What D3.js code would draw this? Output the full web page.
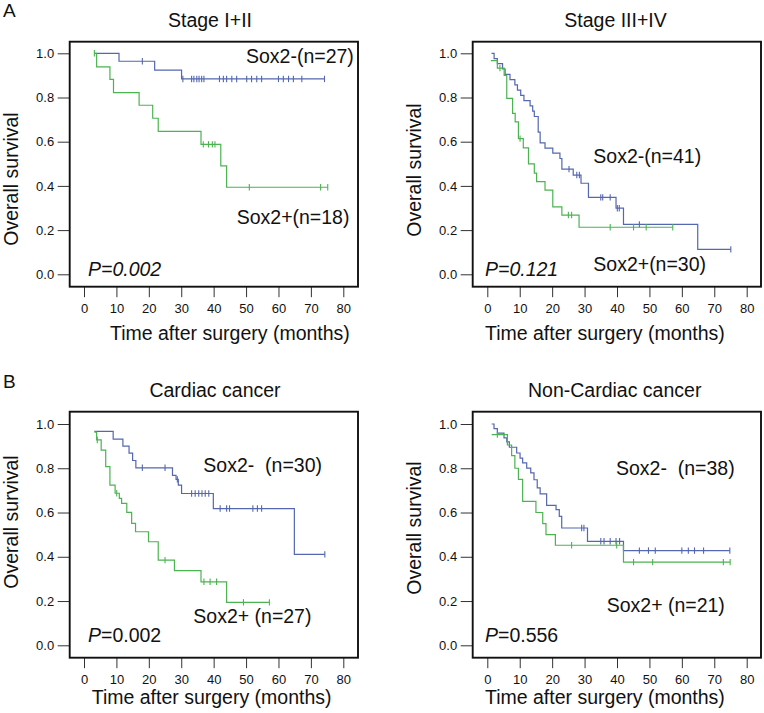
<!DOCTYPE html>
<html><head><meta charset="utf-8">
<script src="https://cdn.jsdelivr.net/npm/d3@7"></script>
<style>
body{margin:0;background:#fff}
svg{display:block}
text{font-family:"Liberation Sans",Arial,Helvetica,sans-serif;fill:#111}
</style>
</head><body>
<svg id="chart" width="764" height="713"></svg>
<script>
// ---------- tick labels / categories ----------
const xTicks = [0, 10, 20, 30, 40, 50, 60, 70, 80];
const yTicks = [0, 0.2, 0.4, 0.6, 0.8, 1.0];
const panelTitles = ["Stage I+II", "Stage III+IV", "Cardiac cancer", "Non-Cardiac cancer"];
const negLabels = ["Sox2-(n=27)", "Sox2-(n=41)", "Sox2-  (n=30)", "Sox2-  (n=38)"];
const posLabels = ["Sox2+(n=18)", "Sox2+(n=30)", "Sox2+ (n=27)", "Sox2+ (n=21)"];
const pValues = ["0.002", "0.121", "0.002", "0.556"];

// ---------- Stage I+II ----------
const s12NegTime = [3.2, 10.8, 21.8, 30.1];
const s12NegSurv = [1.0, 0.964, 0.924, 0.884];
const s12NegCens = [18.0, 30.5, 33.2, 33.9, 34.8, 35.5, 36.3, 37.0, 41.8, 43.0, 44.0, 45.6, 47.1, 50.2, 51.7, 53.3, 54.8, 60.0, 61.5, 63.1, 64.6, 67.2, 74.2];
const s12PosTime = [3.2, 3.9, 8.0, 9.1, 17.0, 21.2, 22.9, 36.1, 42.2, 44.0];
const s12PosSurv = [1.0, 0.939, 0.882, 0.822, 0.765, 0.706, 0.647, 0.588, 0.491, 0.394];
const s12PosCens = [3.2, 36.8, 38.4, 39.6, 40.4, 51.0, 73.0, 75.2];

// ---------- Stage III+IV ----------
const s34NegTime = [1.3, 2.1, 3.1, 4.7, 5.5, 7.0, 8.5, 9.3, 10.3, 11.3, 13.2, 14.0, 14.5, 15.7, 16.3, 17.8, 20.2, 22.4, 23.0, 26.5, 28.9, 31.2, 39.7, 42.0, 64.9];
const s34NegSurv = [1.0, 0.976, 0.953, 0.929, 0.905, 0.881, 0.857, 0.833, 0.81, 0.786, 0.762, 0.738, 0.714, 0.643, 0.595, 0.571, 0.548, 0.524, 0.476, 0.449, 0.412, 0.348, 0.299, 0.226, 0.113];
const s34NegCens = [25.2, 27.6, 28.4, 35.0, 35.6, 37.9, 40.1, 40.7, 46.9, 75.1];
const s34PosTime = [1.1, 3.1, 5.2, 6.0, 7.8, 8.6, 9.6, 11.1, 12.7, 14.5, 15.2, 17.8, 20.2, 23.0, 28.3];
const s34PosSurv = [0.967, 0.933, 0.9, 0.796, 0.728, 0.69, 0.614, 0.572, 0.5, 0.458, 0.419, 0.381, 0.305, 0.268, 0.213];
const s34PosCens = [3.9, 10.1, 25.0, 26.0, 37.9, 45.1, 49.0, 57.2];

// ---------- Cardiac cancer ----------
const carNegTime = [3.2, 9.0, 12.0, 13.9, 15.0, 16.0, 27.3, 28.4, 29.1, 30.1, 39.9, 64.9];
const carNegSurv = [0.967, 0.932, 0.9, 0.868, 0.835, 0.802, 0.768, 0.75, 0.724, 0.686, 0.618, 0.411];
const carNegCens = [18.0, 25.0, 28.8, 33.2, 34.3, 35.4, 36.4, 37.4, 38.5, 42.0, 44.0, 44.9, 52.1, 53.5, 54.8, 74.3];
const carPosTime = [3.2, 3.9, 5.3, 6.7, 8.0, 9.6, 10.9, 11.6, 13.2, 14.7, 15.9, 19.9, 22.9, 27.9, 36.1, 44.0];
const carPosSurv = [0.963, 0.928, 0.882, 0.807, 0.724, 0.687, 0.664, 0.641, 0.601, 0.551, 0.513, 0.468, 0.385, 0.337, 0.287, 0.194];
const carPosCens = [4.1, 10.1, 25.0, 37.0, 38.9, 40.9, 49.2, 57.2];

// ---------- Non-Cardiac cancer ----------
const nonNegTime = [1.35, 2.07, 3.1, 5.15, 6.0, 6.8, 9.06, 10.1, 10.9, 12.15, 13.4, 14.4, 15.4, 16.3, 18.3, 21.2, 22.2, 22.95, 30.9, 42.0];
const nonNegSurv = [1.0, 0.979, 0.959, 0.937, 0.919, 0.895, 0.869, 0.846, 0.824, 0.801, 0.779, 0.748, 0.711, 0.684, 0.632, 0.613, 0.583, 0.53, 0.47, 0.428];
const nonNegCens = [29.1, 29.8, 35.0, 36.0, 37.9, 39.7, 40.8, 46.9, 49.7, 51.8, 60.0, 62.0, 63.9, 66.7, 74.8];
const nonPosTime = [1.35, 6.2, 7.5, 8.5, 9.6, 10.9, 15.0, 17.1, 18.1, 21.0, 42.0];
const nonPosSurv = [0.952, 0.905, 0.857, 0.8, 0.75, 0.65, 0.6, 0.55, 0.5, 0.452, 0.376];
const nonPosCens = [3.1, 26.0, 39.9, 45.1, 51.0, 72.8, 74.9];

// ---------- layout (positions / styles) ----------
const BLUE = "#5467b0", GREEN = "#4bb450";
const FONT = 19.5, TICKFONT = 13;
const layouts = [
  {L:69.7, R:358, T:41.7, B:286.7, x0:84, x1:343.3, y0:274.3, y1:53.3,
   title:[210, 26.5], ytitle:[18, 179], xtitle:[110, 340],
   neg:[246, 63], pos:[236.7, 223.5], p:[88, 276], pItalicAll:true},
  {L:472.7, R:761, T:41.7, B:286.7, x0:487.3, x1:746.7, y0:274.3, y1:53.3,
   title:[615.5, 26.5], ytitle:[421, 170], xtitle:[485, 340],
   neg:[593.3, 163], pos:[593.3, 271], p:[485, 276], pItalicAll:true},
  {L:69.7, R:358, T:411.7, B:657.7, x0:84, x1:343.3, y0:645.3, y1:424,
   title:[215, 396.5], ytitle:[18, 522], xtitle:[91.7, 704],
   neg:[203.3, 472], pos:[193.3, 623], p:[88, 642], pItalicAll:false},
  {L:472.7, R:761, T:411.7, B:657.7, x0:487.3, x1:746.7, y0:645.3, y1:424,
   title:[614.7, 396.5], ytitle:[421, 528], xtitle:[485, 704],
   neg:[616, 475], pos:[606.7, 612], p:[485, 642], pItalicAll:false}
];
const series = [
  {neg:[s12NegTime, s12NegSurv, s12NegCens], pos:[s12PosTime, s12PosSurv, s12PosCens]},
  {neg:[s34NegTime, s34NegSurv, s34NegCens], pos:[s34PosTime, s34PosSurv, s34PosCens]},
  {neg:[carNegTime, carNegSurv, carNegCens], pos:[carPosTime, carPosSurv, carPosCens]},
  {neg:[nonNegTime, nonNegSurv, nonNegCens], pos:[nonPosTime, nonPosSurv, nonPosCens]}
];

const svg = d3.select("#chart");
svg.append("rect").attr("width",764).attr("height",713).attr("fill","#fff");

svg.append("text").attr("x",3).attr("y",16.5).attr("font-size",19).text("A");
svg.append("text").attr("x",3).attr("y",388).attr("font-size",19).text("B");

layouts.forEach((lay, i) => {
  const g = svg.append("g");
  const x = d3.scaleLinear().domain([0, 80]).range([lay.x0, lay.x1]);
  const y = d3.scaleLinear().domain([0, 1]).range([lay.y0, lay.y1]);

  // axes
  const gx = g.append("g").attr("transform", `translate(0,${lay.B})`)
    .call(d3.axisBottom(x).tickValues(xTicks).tickSize(10.5).tickPadding(6.5).tickSizeOuter(0));
  gx.select(".domain").remove();
  gx.attr("font-family", null).attr("font-size", null);
  gx.selectAll("line").attr("stroke", "#333");
  gx.selectAll("text").attr("font-size", TICKFONT).style("fill", "#111");

  const gy = g.append("g").attr("transform", `translate(${lay.L},0)`)
    .call(d3.axisLeft(y).tickValues(yTicks).tickFormat(d3.format(".1f")).tickSize(12).tickPadding(3.5).tickSizeOuter(0));
  gy.select(".domain").remove();
  gy.attr("font-family", null).attr("font-size", null);
  gy.selectAll("line").attr("stroke", "#333");
  gy.selectAll("text").attr("font-size", TICKFONT).style("fill", "#111");

  // frame
  g.append("rect").attr("x", lay.L).attr("y", lay.T)
    .attr("width", lay.R - lay.L).attr("height", lay.B - lay.T)
    .attr("fill", "none").attr("stroke", "#111").attr("stroke-width", 1.9);

  // curves
  const line = d3.line().x(d => x(d[0])).y(d => y(d[1])).curve(d3.curveStepAfter);
  const drawKM = (arr, color) => {
    const [tt, ss, cc] = arr;
    const pts = tt.map((t, k) => [t, ss[k]]);
    const endT = Math.max(d3.max(cc), tt[tt.length - 1]);
    pts.push([endT, ss[ss.length - 1]]);
    g.append("path").attr("d", line(pts)).attr("fill", "none")
      .attr("stroke", color).attr("stroke-width", 1.2);
    cc.forEach(c => {
      const idx = Math.max(0, d3.bisectRight(tt, c) - 1);
      const yy = y(ss[idx]);
      g.append("line").attr("x1", x(c)).attr("x2", x(c))
        .attr("y1", yy - 3.2).attr("y2", yy + 3.2)
        .attr("stroke", color).attr("stroke-width", 1.1);
    });
  };
  drawKM(series[i].neg, BLUE);
  drawKM(series[i].pos, GREEN);

  // texts
  g.append("text").attr("x", lay.title[0]).attr("y", lay.title[1])
    .attr("text-anchor", "middle").attr("font-size", FONT).text(panelTitles[i]);
  g.append("text").attr("transform", `translate(${lay.ytitle[0]},${lay.ytitle[1]}) rotate(-90)`)
    .attr("text-anchor", "middle").attr("font-size", FONT).text("Overall survival");
  g.append("text").attr("x", lay.xtitle[0]).attr("y", lay.xtitle[1])
    .attr("font-size", FONT).text("Time after surgery (months)");
  g.append("text").attr("x", lay.neg[0]).attr("y", lay.neg[1])
    .attr("font-size", FONT).style("white-space", "pre").text(negLabels[i]);
  g.append("text").attr("x", lay.pos[0]).attr("y", lay.pos[1])
    .attr("font-size", FONT).style("white-space", "pre").text(posLabels[i]);
  const pt = g.append("text").attr("x", lay.p[0]).attr("y", lay.p[1]).attr("font-size", FONT);
  if (lay.pItalicAll) {
    pt.attr("font-style", "italic").text("P=" + pValues[i]);
  } else {
    pt.append("tspan").attr("font-style", "italic").text("P");
    pt.append("tspan").text("=" + pValues[i]);
  }
});
</script>
</body></html>
